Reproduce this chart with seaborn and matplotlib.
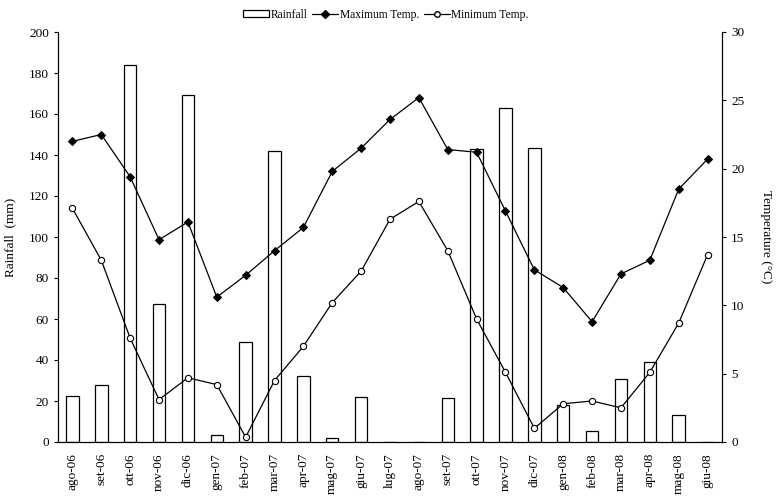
import numpy as np
import pandas as pd
import matplotlib
matplotlib.use("Agg")
import matplotlib.pyplot as plt
import seaborn as sns
from matplotlib.patches import Patch
from matplotlib.lines import Line2D

months = ["ago-06", "set-06", "ott-06", "nov-06", "dic-06", "gen-07", "feb-07", "mar-07",
          "apr-07", "mag-07", "giu-07", "lug-07", "ago-07", "set-07", "ott-07", "nov-07",
          "dic-07", "gen-08", "feb-08", "mar-08", "apr-08", "mag-08", "giu-08"]
rainfall = [22.5, 28, 184, 67.5, 169.5, 3.5, 49, 142, 32, 2, 22, 0, 0, 21.5, 143, 163,
            143.5, 18, 5.5, 30.5, 39, 13, 0]
tmax = [22.0, 22.5, 19.4, 14.8, 16.1, 10.6, 12.2, 14.0, 15.7, 19.8, 21.5, 23.6, 25.2,
        21.4, 21.2, 16.9, 12.6, 11.3, 8.8, 12.3, 13.3, 18.5, 20.7]
tmin = [17.1, 13.3, 7.6, 3.1, 4.7, 4.2, 0.35, 4.5, 7.0, 10.2, 12.5, 16.3, 17.6, 14.0,
        9.0, 5.1, 1.0, 2.8, 3.0, 2.5, 5.1, 8.7, 13.7]

df = pd.DataFrame({"month": months, "rain": rainfall, "tmax": tmax, "tmin": tmin,
                   "pos": np.arange(len(months))})

sns.set_style("ticks", {"axes.edgecolor": "black", "text.color": "black",
                        "xtick.color": "black", "ytick.color": "black",
                        "axes.labelcolor": "black"})
plt.rcParams["font.family"] = ["Liberation Serif", "DejaVu Serif"]
FS = 9.5
plt.rcParams["font.size"] = FS

fig = plt.figure(figsize=(7.76, 4.96), dpi=100)
ax = fig.add_axes([58/776, 1-442/496, (722-58)/776, (442-32)/496])

sns.barplot(data=df, x="month", y="rain", ax=ax, color="white", edgecolor="black",
            linewidth=0.9, width=0.43, saturation=1)
ax.set_xlim(-0.5, len(months)-0.5)
ax.set_ylim(0, 200)
ax.set_yticks(np.arange(0, 201, 20))
ax.set_ylabel("Rainfall  (mm)", fontsize=FS, labelpad=9)
ax.set_xlabel("")
ax.tick_params(axis="x", rotation=90, length=0, labelsize=FS, pad=8)
ax.tick_params(axis="y", labelsize=FS, length=3, width=0.8)
ax.spines["top"].set_visible(False)
for s in ["left", "bottom", "right"]:
    ax.spines[s].set_linewidth(0.8)

ax2 = ax.twinx()
sns.lineplot(data=df, x="pos", y="tmax", ax=ax2, color="black", linewidth=0.9,
             marker="D", markersize=4.5, markerfacecolor="black", markeredgecolor="black")
sns.lineplot(data=df, x="pos", y="tmin", ax=ax2, color="black", linewidth=0.9,
             marker="o", markersize=4.5, markerfacecolor="white", markeredgecolor="black",
             markeredgewidth=0.8)
ax2.set_ylim(0, 30)
ax2.set_xlim(-0.5, len(months)-0.5)
ax2.set_yticks(np.arange(0, 31, 5))
ax2.tick_params(axis="y", labelsize=FS, length=3, width=0.8)
ax2.set_ylabel("Temperature (°C)", rotation=270, fontsize=FS, labelpad=20)
ax2.spines["top"].set_visible(False)
for s in ["left", "bottom", "right"]:
    ax2.spines[s].set_linewidth(0.8)

handles = [Patch(facecolor="white", edgecolor="black", linewidth=0.9),
           Line2D([], [], color="black", lw=0.9, marker="D", markersize=4,
                  markerfacecolor="black"),
           Line2D([], [], color="black", lw=0.9, marker="o", markersize=4,
                  markerfacecolor="white")]
labels = ["Rainfall", "Maximum Temp.", "Minimum Temp."]
fig.legend(handles, labels, loc="center", bbox_to_anchor=(0.497, 0.97), ncol=3,
           frameon=False, fontsize=8.3, handlelength=2.3, handleheight=0.6,
           handletextpad=0.1, columnspacing=0.4)

fig.savefig("out.png", dpi=100)
